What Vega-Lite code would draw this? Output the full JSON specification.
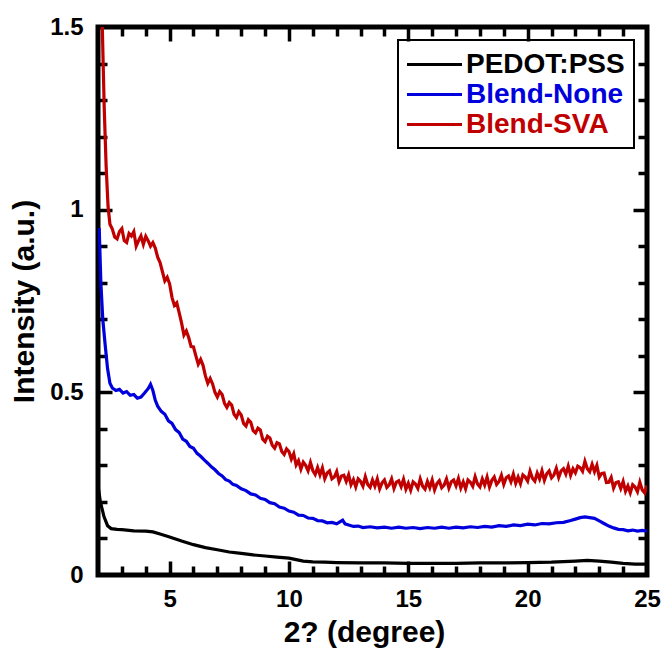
{
  "$schema": "https://vega.github.io/schema/vega-lite/v6.json",
  "width": 549,
  "height": 548,
  "autosize": {"type": "none"},
  "padding": {"left": 98, "top": 27, "right": 19, "bottom": 78},
  "config": {
    "view": {"stroke": "black", "strokeWidth": 5},
    "axis": {
      "domain": false, "grid": false,
      "labelFont": "Liberation Sans", "labelFontSize": 24, "labelFontWeight": "bold", "labelColor": "black",
      "tickColor": "black", "tickWidth": 3.5, "tickOpacity": 1, "labelFlush": false,
      "titleFont": "Liberation Sans", "titleFontSize": 30, "titleFontWeight": "bold", "titleColor": "black"
    }
  },
  "data": {"values": [
    {"s":"PEDOT:PSS","x":2.0,"y":0.245},{"s":"PEDOT:PSS","x":2.1,"y":0.2},{"s":"PEDOT:PSS","x":2.25,"y":0.16},{"s":"PEDOT:PSS","x":2.4,"y":0.135},{"s":"PEDOT:PSS","x":2.55,"y":0.127},{"s":"PEDOT:PSS","x":2.8,"y":0.125},{"s":"PEDOT:PSS","x":3.0,"y":0.124},{"s":"PEDOT:PSS","x":3.5,"y":0.121},{"s":"PEDOT:PSS","x":4.0,"y":0.12},{"s":"PEDOT:PSS","x":4.3,"y":0.118},{"s":"PEDOT:PSS","x":4.6,"y":0.112},{"s":"PEDOT:PSS","x":5.0,"y":0.104},{"s":"PEDOT:PSS","x":5.5,"y":0.093},{"s":"PEDOT:PSS","x":6.0,"y":0.083},{"s":"PEDOT:PSS","x":6.5,"y":0.075},{"s":"PEDOT:PSS","x":7.0,"y":0.069},{"s":"PEDOT:PSS","x":7.5,"y":0.063},{"s":"PEDOT:PSS","x":8.0,"y":0.059},{"s":"PEDOT:PSS","x":8.5,"y":0.055},{"s":"PEDOT:PSS","x":9.0,"y":0.052},{"s":"PEDOT:PSS","x":9.5,"y":0.049},{"s":"PEDOT:PSS","x":10.0,"y":0.046},{"s":"PEDOT:PSS","x":10.3,"y":0.042},{"s":"PEDOT:PSS","x":10.6,"y":0.038},{"s":"PEDOT:PSS","x":11.0,"y":0.036},{"s":"PEDOT:PSS","x":11.5,"y":0.035},{"s":"PEDOT:PSS","x":12.0,"y":0.034},{"s":"PEDOT:PSS","x":13.0,"y":0.033},{"s":"PEDOT:PSS","x":14.0,"y":0.033},{"s":"PEDOT:PSS","x":15.0,"y":0.032},{"s":"PEDOT:PSS","x":16.0,"y":0.032},{"s":"PEDOT:PSS","x":17.0,"y":0.032},{"s":"PEDOT:PSS","x":18.0,"y":0.033},{"s":"PEDOT:PSS","x":19.0,"y":0.033},{"s":"PEDOT:PSS","x":20.0,"y":0.034},{"s":"PEDOT:PSS","x":21.0,"y":0.035},{"s":"PEDOT:PSS","x":22.0,"y":0.038},{"s":"PEDOT:PSS","x":22.5,"y":0.04},{"s":"PEDOT:PSS","x":23.0,"y":0.038},{"s":"PEDOT:PSS","x":23.5,"y":0.035},{"s":"PEDOT:PSS","x":24.0,"y":0.032},{"s":"PEDOT:PSS","x":24.5,"y":0.03},{"s":"PEDOT:PSS","x":25.0,"y":0.03},
    {"s":"Blend-None","x":2.05,"y":0.95},{"s":"Blend-None","x":2.12,"y":0.8},{"s":"Blend-None","x":2.2,"y":0.7},{"s":"Blend-None","x":2.3,"y":0.63},{"s":"Blend-None","x":2.4,"y":0.565},{"s":"Blend-None","x":2.5,"y":0.525},{"s":"Blend-None","x":2.6,"y":0.512},{"s":"Blend-None","x":2.75,"y":0.505},{"s":"Blend-None","x":2.9,"y":0.508},{"s":"Blend-None","x":3.05,"y":0.498},{"s":"Blend-None","x":3.2,"y":0.502},{"s":"Blend-None","x":3.35,"y":0.492},{"s":"Blend-None","x":3.5,"y":0.494},{"s":"Blend-None","x":3.65,"y":0.484},{"s":"Blend-None","x":3.8,"y":0.487},{"s":"Blend-None","x":3.95,"y":0.498},{"s":"Blend-None","x":4.1,"y":0.51},{"s":"Blend-None","x":4.2,"y":0.522},{"s":"Blend-None","x":4.3,"y":0.505},{"s":"Blend-None","x":4.4,"y":0.478},{"s":"Blend-None","x":4.5,"y":0.462},{"s":"Blend-None","x":4.65,"y":0.448},{"s":"Blend-None","x":4.8,"y":0.44},{"s":"Blend-None","x":4.95,"y":0.422},{"s":"Blend-None","x":5.1,"y":0.415},{"s":"Blend-None","x":5.25,"y":0.398},{"s":"Blend-None","x":5.4,"y":0.39},{"s":"Blend-None","x":5.55,"y":0.372},{"s":"Blend-None","x":5.7,"y":0.366},{"s":"Blend-None","x":5.85,"y":0.352},{"s":"Blend-None","x":6.0,"y":0.347},{"s":"Blend-None","x":6.15,"y":0.333},{"s":"Blend-None","x":6.3,"y":0.325},{"s":"Blend-None","x":6.45,"y":0.315},{"s":"Blend-None","x":6.6,"y":0.306},{"s":"Blend-None","x":6.75,"y":0.296},{"s":"Blend-None","x":6.9,"y":0.288},{"s":"Blend-None","x":7.05,"y":0.278},{"s":"Blend-None","x":7.2,"y":0.271},{"s":"Blend-None","x":7.35,"y":0.261},{"s":"Blend-None","x":7.5,"y":0.257},{"s":"Blend-None","x":7.65,"y":0.248},{"s":"Blend-None","x":7.8,"y":0.245},{"s":"Blend-None","x":8.0,"y":0.236},{"s":"Blend-None","x":8.2,"y":0.231},{"s":"Blend-None","x":8.4,"y":0.222},{"s":"Blend-None","x":8.6,"y":0.219},{"s":"Blend-None","x":8.8,"y":0.21},{"s":"Blend-None","x":9.0,"y":0.207},{"s":"Blend-None","x":9.2,"y":0.198},{"s":"Blend-None","x":9.4,"y":0.195},{"s":"Blend-None","x":9.6,"y":0.186},{"s":"Blend-None","x":9.8,"y":0.183},{"s":"Blend-None","x":10.0,"y":0.175},{"s":"Blend-None","x":10.2,"y":0.172},{"s":"Blend-None","x":10.4,"y":0.164},{"s":"Blend-None","x":10.6,"y":0.163},{"s":"Blend-None","x":10.8,"y":0.156},{"s":"Blend-None","x":11.0,"y":0.155},{"s":"Blend-None","x":11.2,"y":0.149},{"s":"Blend-None","x":11.4,"y":0.148},{"s":"Blend-None","x":11.6,"y":0.143},{"s":"Blend-None","x":11.8,"y":0.144},{"s":"Blend-None","x":12.0,"y":0.14},{"s":"Blend-None","x":12.15,"y":0.146},{"s":"Blend-None","x":12.25,"y":0.15},{"s":"Blend-None","x":12.35,"y":0.14},{"s":"Blend-None","x":12.5,"y":0.137},{"s":"Blend-None","x":12.7,"y":0.133},{"s":"Blend-None","x":12.9,"y":0.134},{"s":"Blend-None","x":13.1,"y":0.13},{"s":"Blend-None","x":13.4,"y":0.132},{"s":"Blend-None","x":13.7,"y":0.129},{"s":"Blend-None","x":14.0,"y":0.131},{"s":"Blend-None","x":14.3,"y":0.128},{"s":"Blend-None","x":14.6,"y":0.131},{"s":"Blend-None","x":14.9,"y":0.128},{"s":"Blend-None","x":15.2,"y":0.13},{"s":"Blend-None","x":15.5,"y":0.127},{"s":"Blend-None","x":15.8,"y":0.13},{"s":"Blend-None","x":16.1,"y":0.128},{"s":"Blend-None","x":16.4,"y":0.131},{"s":"Blend-None","x":16.7,"y":0.128},{"s":"Blend-None","x":17.0,"y":0.131},{"s":"Blend-None","x":17.3,"y":0.129},{"s":"Blend-None","x":17.6,"y":0.132},{"s":"Blend-None","x":17.9,"y":0.13},{"s":"Blend-None","x":18.2,"y":0.133},{"s":"Blend-None","x":18.5,"y":0.131},{"s":"Blend-None","x":18.8,"y":0.135},{"s":"Blend-None","x":19.1,"y":0.133},{"s":"Blend-None","x":19.4,"y":0.137},{"s":"Blend-None","x":19.7,"y":0.135},{"s":"Blend-None","x":20.0,"y":0.139},{"s":"Blend-None","x":20.3,"y":0.137},{"s":"Blend-None","x":20.6,"y":0.141},{"s":"Blend-None","x":20.9,"y":0.14},{"s":"Blend-None","x":21.2,"y":0.143},{"s":"Blend-None","x":21.5,"y":0.144},{"s":"Blend-None","x":21.8,"y":0.149},{"s":"Blend-None","x":22.0,"y":0.153},{"s":"Blend-None","x":22.2,"y":0.157},{"s":"Blend-None","x":22.4,"y":0.159},{"s":"Blend-None","x":22.6,"y":0.157},{"s":"Blend-None","x":22.8,"y":0.155},{"s":"Blend-None","x":23.0,"y":0.148},{"s":"Blend-None","x":23.2,"y":0.141},{"s":"Blend-None","x":23.4,"y":0.134},{"s":"Blend-None","x":23.6,"y":0.129},{"s":"Blend-None","x":23.8,"y":0.125},{"s":"Blend-None","x":24.0,"y":0.124},{"s":"Blend-None","x":24.2,"y":0.121},{"s":"Blend-None","x":24.4,"y":0.123},{"s":"Blend-None","x":24.6,"y":0.12},{"s":"Blend-None","x":24.8,"y":0.122},{"s":"Blend-None","x":25.0,"y":0.12},
    {"s":"Blend-SVA","x":2.1,"y":1.75},{"s":"Blend-SVA","x":2.18,"y":1.5},{"s":"Blend-SVA","x":2.26,"y":1.28},{"s":"Blend-SVA","x":2.34,"y":1.12},{"s":"Blend-SVA","x":2.42,"y":1.01},{"s":"Blend-SVA","x":2.5,"y":0.96},
    {"s":"Blend-SVA","x":2.6,"y":0.947},{"s":"Blend-SVA","x":2.7,"y":0.925},{"s":"Blend-SVA","x":2.8,"y":0.92},{"s":"Blend-SVA","x":2.9,"y":0.94},{"s":"Blend-SVA","x":3.0,"y":0.948},{"s":"Blend-SVA","x":3.1,"y":0.915},{"s":"Blend-SVA","x":3.2,"y":0.91},{"s":"Blend-SVA","x":3.3,"y":0.935},{"s":"Blend-SVA","x":3.4,"y":0.928},{"s":"Blend-SVA","x":3.5,"y":0.94},{"s":"Blend-SVA","x":3.6,"y":0.9},{"s":"Blend-SVA","x":3.7,"y":0.915},{"s":"Blend-SVA","x":3.8,"y":0.928},{"s":"Blend-SVA","x":3.9,"y":0.905},{"s":"Blend-SVA","x":4.0,"y":0.927},{"s":"Blend-SVA","x":4.1,"y":0.915},{"s":"Blend-SVA","x":4.2,"y":0.9},{"s":"Blend-SVA","x":4.3,"y":0.91},{"s":"Blend-SVA","x":4.4,"y":0.895},{"s":"Blend-SVA","x":4.5,"y":0.87},{"s":"Blend-SVA","x":4.6,"y":0.855},{"s":"Blend-SVA","x":4.7,"y":0.83},{"s":"Blend-SVA","x":4.8,"y":0.805},{"s":"Blend-SVA","x":4.9,"y":0.815},{"s":"Blend-SVA","x":5.0,"y":0.797},{"s":"Blend-SVA","x":5.1,"y":0.76},{"s":"Blend-SVA","x":5.2,"y":0.738},{"s":"Blend-SVA","x":5.3,"y":0.745},{"s":"Blend-SVA","x":5.4,"y":0.718},{"s":"Blend-SVA","x":5.5,"y":0.69},{"s":"Blend-SVA","x":5.6,"y":0.657},{"s":"Blend-SVA","x":5.7,"y":0.668},{"s":"Blend-SVA","x":5.8,"y":0.65},{"s":"Blend-SVA","x":5.9,"y":0.625},{"s":"Blend-SVA","x":6.0,"y":0.624},{"s":"Blend-SVA","x":6.1,"y":0.6},{"s":"Blend-SVA","x":6.2,"y":0.577},{"s":"Blend-SVA","x":6.3,"y":0.59},{"s":"Blend-SVA","x":6.4,"y":0.574},{"s":"Blend-SVA","x":6.5,"y":0.545},{"s":"Blend-SVA","x":6.6,"y":0.525},{"s":"Blend-SVA","x":6.7,"y":0.538},{"s":"Blend-SVA","x":6.8,"y":0.523},{"s":"Blend-SVA","x":6.9,"y":0.5},{"s":"Blend-SVA","x":7.0,"y":0.487},{"s":"Blend-SVA","x":7.1,"y":0.502},{"s":"Blend-SVA","x":7.2,"y":0.494},{"s":"Blend-SVA","x":7.3,"y":0.47},{"s":"Blend-SVA","x":7.4,"y":0.459},{"s":"Blend-SVA","x":7.5,"y":0.472},{"s":"Blend-SVA","x":7.6,"y":0.465},{"s":"Blend-SVA","x":7.7,"y":0.44},{"s":"Blend-SVA","x":7.8,"y":0.431},{"s":"Blend-SVA","x":7.9,"y":0.447},{"s":"Blend-SVA","x":8.0,"y":0.438},{"s":"Blend-SVA","x":8.1,"y":0.415},{"s":"Blend-SVA","x":8.2,"y":0.408},{"s":"Blend-SVA","x":8.3,"y":0.425},{"s":"Blend-SVA","x":8.4,"y":0.418},{"s":"Blend-SVA","x":8.5,"y":0.395},{"s":"Blend-SVA","x":8.6,"y":0.389},{"s":"Blend-SVA","x":8.7,"y":0.402},{"s":"Blend-SVA","x":8.8,"y":0.397},{"s":"Blend-SVA","x":8.9,"y":0.372},{"s":"Blend-SVA","x":9.0,"y":0.365},{"s":"Blend-SVA","x":9.1,"y":0.38},{"s":"Blend-SVA","x":9.2,"y":0.375},{"s":"Blend-SVA","x":9.3,"y":0.355},{"s":"Blend-SVA","x":9.4,"y":0.347},{"s":"Blend-SVA","x":9.5,"y":0.362},{"s":"Blend-SVA","x":9.6,"y":0.359},{"s":"Blend-SVA","x":9.7,"y":0.338},{"s":"Blend-SVA","x":9.8,"y":0.33},{"s":"Blend-SVA","x":9.9,"y":0.345},
    {"s":"Blend-SVA","x":10.0,"y":0.338},{"s":"Blend-SVA","x":10.1,"y":0.317},{"s":"Blend-SVA","x":10.2,"y":0.332},{"s":"Blend-SVA","x":10.3,"y":0.301},{"s":"Blend-SVA","x":10.4,"y":0.313},{"s":"Blend-SVA","x":10.5,"y":0.29},{"s":"Blend-SVA","x":10.6,"y":0.309},{"s":"Blend-SVA","x":10.7,"y":0.3},{"s":"Blend-SVA","x":10.8,"y":0.285},{"s":"Blend-SVA","x":10.9,"y":0.308},{"s":"Blend-SVA","x":11.0,"y":0.286},{"s":"Blend-SVA","x":11.1,"y":0.275},{"s":"Blend-SVA","x":11.2,"y":0.294},{"s":"Blend-SVA","x":11.3,"y":0.274},{"s":"Blend-SVA","x":11.4,"y":0.293},{"s":"Blend-SVA","x":11.5,"y":0.264},{"s":"Blend-SVA","x":11.6,"y":0.279},{"s":"Blend-SVA","x":11.7,"y":0.285},{"s":"Blend-SVA","x":11.8,"y":0.263},{"s":"Blend-SVA","x":11.9,"y":0.268},{"s":"Blend-SVA","x":12.0,"y":0.283},{"s":"Blend-SVA","x":12.1,"y":0.255},{"s":"Blend-SVA","x":12.2,"y":0.271},{"s":"Blend-SVA","x":12.3,"y":0.273},{"s":"Blend-SVA","x":12.4,"y":0.256},{"s":"Blend-SVA","x":12.5,"y":0.274},{"s":"Blend-SVA","x":12.6,"y":0.247},{"s":"Blend-SVA","x":12.7,"y":0.261},{"s":"Blend-SVA","x":12.8,"y":0.241},{"s":"Blend-SVA","x":12.9,"y":0.263},{"s":"Blend-SVA","x":13.0,"y":0.256},{"s":"Blend-SVA","x":13.1,"y":0.243},{"s":"Blend-SVA","x":13.2,"y":0.269},{"s":"Blend-SVA","x":13.3,"y":0.248},{"s":"Blend-SVA","x":13.4,"y":0.24},{"s":"Blend-SVA","x":13.5,"y":0.26},{"s":"Blend-SVA","x":13.6,"y":0.243},{"s":"Blend-SVA","x":13.7,"y":0.263},{"s":"Blend-SVA","x":13.8,"y":0.236},{"s":"Blend-SVA","x":13.9,"y":0.252},{"s":"Blend-SVA","x":14.0,"y":0.26},{"s":"Blend-SVA","x":14.1,"y":0.24},{"s":"Blend-SVA","x":14.2,"y":0.247},{"s":"Blend-SVA","x":14.3,"y":0.263},{"s":"Blend-SVA","x":14.4,"y":0.237},{"s":"Blend-SVA","x":14.5,"y":0.254},{"s":"Blend-SVA","x":14.6,"y":0.258},{"s":"Blend-SVA","x":14.7,"y":0.242},{"s":"Blend-SVA","x":14.8,"y":0.262},{"s":"Blend-SVA","x":14.9,"y":0.235},{"s":"Blend-SVA","x":15.0,"y":0.251},{"s":"Blend-SVA","x":15.1,"y":0.232},{"s":"Blend-SVA","x":15.2,"y":0.255},{"s":"Blend-SVA","x":15.3,"y":0.249},{"s":"Blend-SVA","x":15.4,"y":0.237},{"s":"Blend-SVA","x":15.5,"y":0.263},{"s":"Blend-SVA","x":15.6,"y":0.243},{"s":"Blend-SVA","x":15.7,"y":0.235},{"s":"Blend-SVA","x":15.8,"y":0.256},{"s":"Blend-SVA","x":15.9,"y":0.239},{"s":"Blend-SVA","x":16.0,"y":0.26},{"s":"Blend-SVA","x":16.1,"y":0.233},{"s":"Blend-SVA","x":16.2,"y":0.25},{"s":"Blend-SVA","x":16.3,"y":0.258},{"s":"Blend-SVA","x":16.4,"y":0.239},{"s":"Blend-SVA","x":16.5,"y":0.246},{"s":"Blend-SVA","x":16.6,"y":0.263},{"s":"Blend-SVA","x":16.7,"y":0.238},{"s":"Blend-SVA","x":16.8,"y":0.255},{"s":"Blend-SVA","x":16.9,"y":0.26},{"s":"Blend-SVA","x":17.0,"y":0.244},{"s":"Blend-SVA","x":17.1,"y":0.264},{"s":"Blend-SVA","x":17.2,"y":0.238},{"s":"Blend-SVA","x":17.3,"y":0.255},{"s":"Blend-SVA","x":17.4,"y":0.236},{"s":"Blend-SVA","x":17.5,"y":0.26},{"s":"Blend-SVA","x":17.6,"y":0.254},{"s":"Blend-SVA","x":17.7,"y":0.243},{"s":"Blend-SVA","x":17.8,"y":0.269},{"s":"Blend-SVA","x":17.9,"y":0.249},{"s":"Blend-SVA","x":18.0,"y":0.241},{"s":"Blend-SVA","x":18.1,"y":0.263},{"s":"Blend-SVA","x":18.2,"y":0.246},{"s":"Blend-SVA","x":18.3,"y":0.268},{"s":"Blend-SVA","x":18.4,"y":0.241},{"s":"Blend-SVA","x":18.5,"y":0.259},{"s":"Blend-SVA","x":18.6,"y":0.268},{"s":"Blend-SVA","x":18.7,"y":0.248},{"s":"Blend-SVA","x":18.8,"y":0.256},{"s":"Blend-SVA","x":18.9,"y":0.273},{"s":"Blend-SVA","x":19.0,"y":0.248},{"s":"Blend-SVA","x":19.1,"y":0.266},{"s":"Blend-SVA","x":19.2,"y":0.271},{"s":"Blend-SVA","x":19.3,"y":0.255},{"s":"Blend-SVA","x":19.4,"y":0.276},{"s":"Blend-SVA","x":19.5,"y":0.251},{"s":"Blend-SVA","x":19.6,"y":0.268},{"s":"Blend-SVA","x":19.7,"y":0.25},{"s":"Blend-SVA","x":19.8,"y":0.274},{"s":"Blend-SVA","x":19.9,"y":0.268},{"s":"Blend-SVA","x":20.0,"y":0.257},{"s":"Blend-SVA","x":20.1,"y":0.284},{"s":"Blend-SVA","x":20.2,"y":0.265},{"s":"Blend-SVA","x":20.3,"y":0.257},{"s":"Blend-SVA","x":20.4,"y":0.279},{"s":"Blend-SVA","x":20.5,"y":0.263},{"s":"Blend-SVA","x":20.6,"y":0.285},{"s":"Blend-SVA","x":20.7,"y":0.259},{"s":"Blend-SVA","x":20.8,"y":0.277},{"s":"Blend-SVA","x":20.9,"y":0.285},{"s":"Blend-SVA","x":21.0,"y":0.266},{"s":"Blend-SVA","x":21.1,"y":0.274},{"s":"Blend-SVA","x":21.2,"y":0.292},{"s":"Blend-SVA","x":21.3,"y":0.267},{"s":"Blend-SVA","x":21.4,"y":0.285},{"s":"Blend-SVA","x":21.5,"y":0.291},{"s":"Blend-SVA","x":21.6,"y":0.276},{"s":"Blend-SVA","x":21.7,"y":0.298},{"s":"Blend-SVA","x":21.8,"y":0.273},{"s":"Blend-SVA","x":21.9,"y":0.291},{"s":"Blend-SVA","x":22.0,"y":0.28},{"s":"Blend-SVA","x":22.1,"y":0.298},{"s":"Blend-SVA","x":22.2,"y":0.294},{"s":"Blend-SVA","x":22.3,"y":0.284},{"s":"Blend-SVA","x":22.4,"y":0.311},{"s":"Blend-SVA","x":22.5,"y":0.291},{"s":"Blend-SVA","x":22.6,"y":0.283},{"s":"Blend-SVA","x":22.7,"y":0.303},{"s":"Blend-SVA","x":22.8,"y":0.283},{"s":"Blend-SVA","x":22.9,"y":0.3},{"s":"Blend-SVA","x":23.0,"y":0.268},{"s":"Blend-SVA","x":23.1,"y":0.278},{"s":"Blend-SVA","x":23.2,"y":0.279},{"s":"Blend-SVA","x":23.3,"y":0.253},{"s":"Blend-SVA","x":23.4,"y":0.254},{"s":"Blend-SVA","x":23.5,"y":0.267},{"s":"Blend-SVA","x":23.6,"y":0.238},{"s":"Blend-SVA","x":23.7,"y":0.253},{"s":"Blend-SVA","x":23.8,"y":0.255},{"s":"Blend-SVA","x":23.9,"y":0.237},{"s":"Blend-SVA","x":24.0,"y":0.256},{"s":"Blend-SVA","x":24.1,"y":0.229},{"s":"Blend-SVA","x":24.2,"y":0.244},{"s":"Blend-SVA","x":24.3,"y":0.225},{"s":"Blend-SVA","x":24.4,"y":0.247},{"s":"Blend-SVA","x":24.5,"y":0.241},{"s":"Blend-SVA","x":24.6,"y":0.228},{"s":"Blend-SVA","x":24.7,"y":0.254},{"s":"Blend-SVA","x":24.8,"y":0.233},{"s":"Blend-SVA","x":24.9,"y":0.225},{"s":"Blend-SVA","x":25.0,"y":0.245}
  ]},
  "resolve": {"axis": {"x": "independent", "y": "independent"}},
  "layer": [
    {
      "mark": {"type": "line", "clip": true, "strokeWidth": 3.2},
      "encoding": {
        "x": {"field": "x", "type": "quantitative", "scale": {"domain": [2, 25], "nice": false, "zero": false},
              "axis": {"orient": "bottom", "values": [5, 10, 15, 20, 25], "ticks": false, "labelPadding": 12, "title": "2? (degree)", "titlePadding": 6, "titleX": 266}},
        "y": {"field": "y", "type": "quantitative", "scale": {"domain": [0, 1.5], "nice": false},
              "axis": {"orient": "left", "values": [0, 0.5, 1, 1.5], "format": "~g", "ticks": false, "labelPadding": 15, "title": "Intensity (a.u.)", "titlePadding": 10}},
        "color": {"field": "s", "type": "nominal",
                  "scale": {"domain": ["PEDOT:PSS", "Blend-None", "Blend-SVA"], "range": ["#000000", "#0000DD", "#C00000"]},
                  "legend": {"title": null, "orient": "top-right", "offset": 13, "padding": 9, "strokeColor": "black",
                             "symbolType": "M-2,0H2", "symbolSize": 756, "symbolStrokeWidth": 3, "symbolOffset": 12,
                             "labelFont": "Liberation Sans", "labelFontSize": 28, "labelFontWeight": "bold", "labelLimit": 400,
                             "labelOffset": 16, "rowPadding": -1,
                             "encode": {"labels": {"update": {"fill": {"signal": "scale('color', datum.value)"}}},
                                        "legend": {"update": {"strokeWidth": {"value": 2}}}}}}
      }
    },
    {
      "mark": {"type": "line", "opacity": 0},
      "encoding": {
        "x": {"field": "x", "type": "quantitative", "axis": {"orient": "bottom", "values": [5, 10, 15, 20], "tickSize": 14, "offset": -14, "tickColor": "black", "labels": false, "title": null}},
        "y": {"field": "y", "type": "quantitative", "axis": {"orient": "left", "values": [0.5, 1], "tickSize": 14, "offset": -14, "tickColor": "black", "labels": false, "title": null}}
      }
    },
    {
      "mark": {"type": "line", "opacity": 0},
      "encoding": {
        "x": {"field": "x", "type": "quantitative", "axis": {"orient": "bottom", "values": [3,4,6,7,8,9,11,12,13,14,16,17,18,19,21,22,23,24], "tickSize": 9, "offset": -9, "tickColor": "black", "labels": false, "title": null}},
        "y": {"field": "y", "type": "quantitative", "axis": {"orient": "left", "values": [0.1,0.2,0.3,0.4,0.6,0.7,0.8,0.9,1.1,1.2,1.3,1.4], "tickSize": 9, "offset": -9, "tickColor": "black", "labels": false, "title": null}}
      }
    },
    {
      "mark": {"type": "line", "opacity": 0},
      "encoding": {
        "x": {"field": "x", "type": "quantitative", "axis": {"orient": "top", "values": [5, 10, 15, 20], "tickSize": 14, "offset": -14, "tickColor": "black", "labels": false, "title": null}},
        "y": {"field": "y", "type": "quantitative", "axis": {"orient": "right", "values": [0.5, 1], "tickSize": 14, "offset": -14, "tickColor": "black", "labels": false, "title": null}}
      }
    },
    {
      "mark": {"type": "line", "opacity": 0},
      "encoding": {
        "x": {"field": "x", "type": "quantitative", "axis": {"orient": "top", "values": [3,4,6,7,8,9,11,12,13,14,16,17,18,19,21,22,23,24], "tickSize": 9, "offset": -9, "tickColor": "black", "labels": false, "title": null}},
        "y": {"field": "y", "type": "quantitative", "axis": {"orient": "right", "values": [0.1,0.2,0.3,0.4,0.6,0.7,0.8,0.9,1.1,1.2,1.3,1.4], "tickSize": 9, "offset": -9, "tickColor": "black", "labels": false, "title": null}}
      }
    }
  ]
}
